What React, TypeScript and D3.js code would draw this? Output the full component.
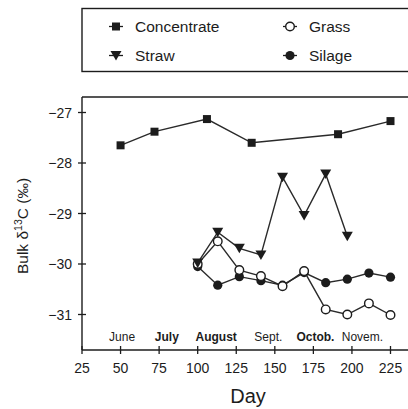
import React, { useEffect, useRef } from "react";
import * as d3 from "d3";

const concDays = [50, 72, 106, 135, 191, 225];
const concValues = [-27.65, -27.38, -27.13, -27.6, -27.43, -27.17];

const strawDays = [100, 113, 127, 141, 155, 169, 183, 197];
const strawValues = [-29.98, -29.37, -29.69, -29.82, -28.28, -29.04, -28.22, -29.45];

const grassDays = [100, 113, 127, 141, 155, 169, 183, 197, 211, 225];
const grassValues = [-30.0, -29.55, -30.12, -30.24, -30.44, -30.14, -30.9, -31.0, -30.78, -31.01];

const silageDays = [100, 113, 127, 141, 155, 169, 183, 197, 211, 225];
const silageValues = [-30.05, -30.42, -30.25, -30.33, -30.42, -30.17, -30.37, -30.3, -30.18, -30.26];

const xTicks = [25, 50, 75, 100, 125, 150, 175, 200, 225];
const yTicks = [-27, -28, -29, -30, -31];

const monthLabels = ["June", "July", "August", "Sept.", "Octob.", "Novem."];
const monthDays = [51, 80, 112, 145.8, 176.3, 206.8];
const monthBold = [false, true, true, false, true, false];

const ink = "#1c1c1c";
const font = "'Liberation Sans', Arial, Helvetica, sans-serif";

const App = () => {
  const svgRef = useRef<SVGSVGElement>(null);

  useEffect(() => {
    const width = 408;
    const height = 409;
    const left = 82;
    const top = 97;
    const bottom = 350;

    const svg = d3.select(svgRef.current);
    svg.selectAll("*").remove();
    svg.attr("width", width).attr("height", height);

    svg.append("rect").attr("width", width).attr("height", height).attr("fill", "#fff");

    const x = d3.scaleLinear().domain([25, 225]).range([left, 390.5]);
    const y = d3.scaleLinear().domain([-27, -31]).range([112.5, 314.5]);

    // frame
    svg.append("line")
      .attr("x1", left).attr("x2", width).attr("y1", top).attr("y2", top)
      .attr("stroke", ink).attr("stroke-width", 1.4);
    svg.append("line")
      .attr("x1", left).attr("x2", left).attr("y1", top).attr("y2", bottom)
      .attr("stroke", ink).attr("stroke-width", 1.4);
    svg.append("line")
      .attr("x1", left).attr("x2", width).attr("y1", bottom).attr("y2", bottom)
      .attr("stroke", ink).attr("stroke-width", 1.4);

    // x ticks
    const xg = svg.append("g");
    xTicks.forEach((t) => {
      xg.append("line")
        .attr("x1", x(t)).attr("x2", x(t)).attr("y1", bottom - 4).attr("y2", bottom + 4)
        .attr("stroke", ink).attr("stroke-width", 1.3);
      xg.append("text")
        .attr("x", x(t)).attr("y", bottom + 23)
        .attr("text-anchor", "middle")
        .attr("font-family", font).attr("font-size", 14).attr("fill", ink)
        .text(t);
    });

    // y ticks
    const yg = svg.append("g");
    yTicks.forEach((t) => {
      yg.append("line")
        .attr("x1", left - 4).attr("x2", left + 4).attr("y1", y(t)).attr("y2", y(t))
        .attr("stroke", ink).attr("stroke-width", 1.3);
      yg.append("text")
        .attr("x", 72).attr("y", y(t) + 5)
        .attr("text-anchor", "end")
        .attr("font-family", font).attr("font-size", 14).attr("fill", ink)
        .text("\u2212" + Math.abs(t));
    });

    // month labels
    monthLabels.forEach((m, i) => {
      svg.append("text")
        .attr("x", x(monthDays[i])).attr("y", 340.5)
        .attr("text-anchor", "middle")
        .attr("font-family", font).attr("font-size", 12)
        .attr("font-weight", monthBold[i] ? "bold" : "normal")
        .attr("fill", ink)
        .text(m);
    });

    // axis titles
    svg.append("text")
      .attr("x", 248).attr("y", 403)
      .attr("text-anchor", "middle")
      .attr("font-family", font).attr("font-size", 20).attr("fill", ink)
      .text("Day");

    const yl = svg.append("text")
      .attr("transform", "translate(28,226) rotate(-90)")
      .attr("text-anchor", "middle")
      .attr("font-family", font).attr("font-size", 15.5).attr("fill", ink);
    yl.append("tspan").text("Bulk \u03b4");
    yl.append("tspan").attr("dy", -6).attr("font-size", 10.5).text("13");
    yl.append("tspan").attr("dy", 6).text("C (\u2030)");

    const line = d3.line<[number, number]>().x((d) => x(d[0])).y((d) => y(d[1]));

    const drawSeries = (days: number[], vals: number[], marker: string) => {
      const pts = days.map((d, i) => [d, vals[i]] as [number, number]);
      svg.append("path")
        .attr("d", line(pts))
        .attr("fill", "none")
        .attr("stroke", "#2a2a2a")
        .attr("stroke-width", 1.4);
      const g = svg.append("g");
      pts.forEach((p) => drawMarker(g, x(p[0]), y(p[1]), marker));
    };

    const drawMarker = (g: any, cx: number, cy: number, marker: string) => {
      if (marker === "square") {
        g.append("rect")
          .attr("x", cx - 4).attr("y", cy - 4).attr("width", 8).attr("height", 8)
          .attr("fill", ink);
      } else if (marker === "tri") {
        g.append("path")
          .attr("d", `M${cx - 5.5},${cy - 4.5}L${cx + 5.5},${cy - 4.5}L${cx},${cy + 5}Z`)
          .attr("fill", ink);
      } else if (marker === "open") {
        g.append("circle")
          .attr("cx", cx).attr("cy", cy).attr("r", 4.3)
          .attr("fill", "#fff").attr("stroke", ink).attr("stroke-width", 1.4);
      } else {
        g.append("circle")
          .attr("cx", cx).attr("cy", cy).attr("r", 4.6)
          .attr("fill", ink);
      }
    };

    drawSeries(concDays, concValues, "square");
    drawSeries(silageDays, silageValues, "filled");
    drawSeries(grassDays, grassValues, "open");
    drawSeries(strawDays, strawValues, "tri");

    // legend
    svg.append("rect")
      .attr("x", 82).attr("y", 8.5).attr("width", 340).attr("height", 63)
      .attr("fill", "#fff").attr("stroke", ink).attr("stroke-width", 1.4);

    const legend = [
      { label: "Concentrate", marker: "square", lx: 116, ly: 26.5 },
      { label: "Straw", marker: "tri", lx: 116, ly: 55.5 },
      { label: "Grass", marker: "open", lx: 290, ly: 26.5 },
      { label: "Silage", marker: "filled", lx: 290, ly: 55.5 },
    ];
    const lg = svg.append("g");
    legend.forEach((l) => {
      lg.append("line")
        .attr("x1", l.lx - 7).attr("x2", l.lx + 7).attr("y1", l.ly).attr("y2", l.ly)
        .attr("stroke", ink).attr("stroke-width", 1.3);
      drawMarker(lg, l.lx, l.ly, l.marker);
      lg.append("text")
        .attr("x", l.lx + 19).attr("y", l.ly + 5.5)
        .attr("font-family", font).attr("font-size", 15.5).attr("fill", ink)
        .text(l.label);
    });
  }, []);

  return (
    <svg ref={svgRef} style={{ position: "absolute", left: 0, top: 0, display: "block" }}></svg>
  );
};

export default App;
